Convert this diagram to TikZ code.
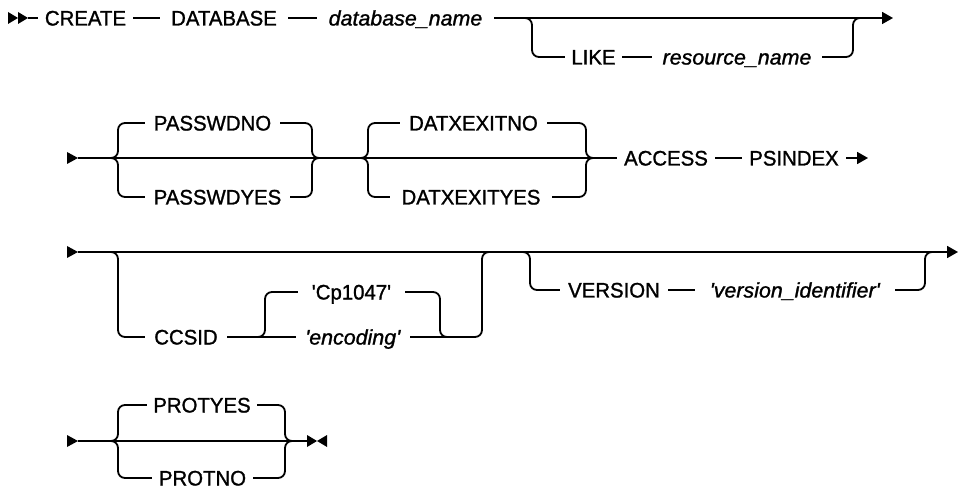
\documentclass[tikz,border=0pt]{standalone}
\usepackage{fontspec}
\setmainfont{Liberation Sans}[FakeBold=1.2,UprightFeatures={FakeStretch=0.97},ItalicFeatures={FakeStretch=1.02}]
\usetikzlibrary{arrows.meta}
\begin{document}
\begin{tikzpicture}[x=1pt,y=-1pt,
  lbl/.style={font=\fontsize{21}{25}\selectfont, inner sep=0pt, text height=15pt, text depth=0pt, minimum height=15pt},
  rail/.style={line width=1.8pt},
  rc/.style={rail, rounded corners=7pt},
  arr/.style={rail, -{Triangle[length=11pt,width=12pt]}}]
\useasboundingbox (0,0) rectangle (959,489);

% ---------- row 1 ----------
\coordinate (s1) at (28,18);
\coordinate (e1) at (893,18);
\node[lbl,minimum width=95pt] (create) at (85.5,18) {CREATE};
\node[lbl,minimum width=128pt] (database) at (224,18) {DATABASE};
\node[lbl,minimum width=177pt] (dbname) at (405.5,18) {\textit{database\_name}};
\node[lbl,minimum width=57pt] (like) at (593.5,57) {LIKE};
\node[lbl,minimum width=170pt] (resname) at (737,57) {\textit{resource\_name}};
\coordinate (l1a) at (524,18); \coordinate (l1v) at (532,40);
\coordinate (l1b) at (853,40); \coordinate (l1c) at (861,18);

\fill (s1) ++(-20,-6) -- ++(10,6) -- ++(-10,6) -- cycle;
\fill (s1) ++(-10,-6) -- ++(10,6) -- ++(-10,6) -- cycle;
\draw[rail] (s1) -- (create.west);
\draw[rail] (create.east) -- (database.west);
\draw[rail] (database.east) -- (dbname.west);
\draw[arr] (dbname.east) -- (e1);
\draw[rc] (l1a) -| (l1v) |- (like.west);
\draw[rail] (like.east) -- (resname.west);
\draw[rc] (resname.east) -| (l1b) |- (l1c);

% ---------- row 2 ----------
\coordinate (s2) at (78,158);
\coordinate (e2) at (868,158);
\node[lbl,minimum width=135pt] (pwno) at (212.5,123) {PASSWDNO};
\node[lbl,minimum width=145pt] (pwyes) at (217.5,197) {PASSWDYES};
\node[lbl,minimum width=147pt] (dxno) at (473.5,123) {DATXEXITNO};
\node[lbl,minimum width=162pt] (dxyes) at (471,197) {DATXEXITYES};
\node[lbl,minimum width=98pt] (access) at (666,158) {ACCESS};
\node[lbl,minimum width=104pt] (psindex) at (794,158) {PSINDEX};
\coordinate (b1l) at (110,158); \coordinate (b1lt) at (118,140); \coordinate (b1lb) at (118,176);
\coordinate (b1r) at (320,158); \coordinate (b1rt) at (312,140); \coordinate (b1rb) at (312,176);
\coordinate (b2l) at (361,158); \coordinate (b2lt) at (368,140); \coordinate (b2lb) at (368,176);
\coordinate (b2r) at (593,158); \coordinate (b2rt) at (586,140); \coordinate (b2rb) at (586,176);

\fill (s2) ++(-11,-6) -- ++(11,6) -- ++(-11,6) -- cycle;
\draw[rail] (s2) -- (access.west);
\draw[rc] (b1l) -| (b1lt) |- (pwno.west);
\draw[rc] (b1l) -| (b1lb) |- (pwyes.west);
\draw[rc] (pwno.east) -| (b1rt) |- (b1r);
\draw[rc] (pwyes.east) -| (b1rb) |- (b1r);
\draw[rc] (b2l) -| (b2lt) |- (dxno.west);
\draw[rc] (b2l) -| (b2lb) |- (dxyes.west);
\draw[rc] (dxno.east) -| (b2rt) |- (b2r);
\draw[rc] (dxyes.east) -| (b2rb) |- (b2r);
\draw[rail] (access.east) -- (psindex.west);
\draw[arr] (psindex.east) -- (e2);

% ---------- row 3 ----------
\coordinate (s3) at (78,252);
\coordinate (e3) at (958,252);
\node[lbl,minimum width=82pt] (ccsid) at (186,337) {CCSID};
\node[lbl,minimum width=107pt] (cp) at (351.5,292) {\textquotesingle Cp1047\textquotesingle};
\node[lbl,minimum width=114pt] (enc) at (353,337) {\textit{\textquotesingle encoding\textquotesingle}};
\node[lbl,minimum width=108pt] (version) at (614,290) {VERSION};
\node[lbl,minimum width=200pt] (vid) at (795,290) {\textit{\textquotesingle version\_identifier\textquotesingle}};
\coordinate (o1a) at (110,252); \coordinate (o1v) at (118,300);
\coordinate (i1a) at (257,337); \coordinate (i1v) at (265,310);
\coordinate (i1w) at (440,310); \coordinate (i1b) at (448,337);
\coordinate (o1w) at (482,300); \coordinate (o1b) at (490,252);
\coordinate (o2a) at (522,252); \coordinate (o2v) at (530,270);
\coordinate (o2w) at (925,270); \coordinate (o2b) at (933,252);

\fill (s3) ++(-11,-6) -- ++(11,6) -- ++(-11,6) -- cycle;
\draw[arr] (s3) -- (e3);
\draw[rc] (o1a) -| (o1v) |- (ccsid.west);
\draw[rail] (ccsid.east) -- (enc.west);
\draw[rc] (i1a) -| (i1v) |- (cp.west);
\draw[rc] (cp.east) -| (i1w) |- (i1b);
\draw[rc] (enc.east) -| (o1w) |- (o1b);
\draw[rc] (o2a) -| (o2v) |- (version.west);
\draw[rail] (version.east) -- (vid.west);
\draw[rc] (vid.east) -| (o2w) |- (o2b);

% ---------- row 4 ----------
\coordinate (s4) at (78,441);
\coordinate (m4) at (307,441);
\node[lbl,minimum width=110pt] (pyes) at (202,405) {PROTYES};
\node[lbl,minimum width=101pt] (pno) at (202.5,478) {PROTNO};
\coordinate (b3l) at (110,441); \coordinate (b3lt) at (118,423); \coordinate (b3lb) at (118,459);
\coordinate (b3r) at (292,441); \coordinate (b3rt) at (285,423); \coordinate (b3rb) at (285,459);

\fill (s4) ++(-11,-6) -- ++(11,6) -- ++(-11,6) -- cycle;
\draw[rail] (s4) -- (m4);
\draw[rc] (b3l) -| (b3lt) |- (pyes.west);
\draw[rc] (b3l) -| (b3lb) |- (pno.west);
\draw[rc] (pyes.east) -| (b3rt) |- (b3r);
\draw[rc] (pno.east) -| (b3rb) |- (b3r);
\fill (m4) ++(0,-6) -- ++(10,6) -- ++(-10,6) -- cycle;
\fill (m4) ++(20,-6) -- ++(-10,6) -- ++(10,6) -- cycle;
\end{tikzpicture}
\end{document}
